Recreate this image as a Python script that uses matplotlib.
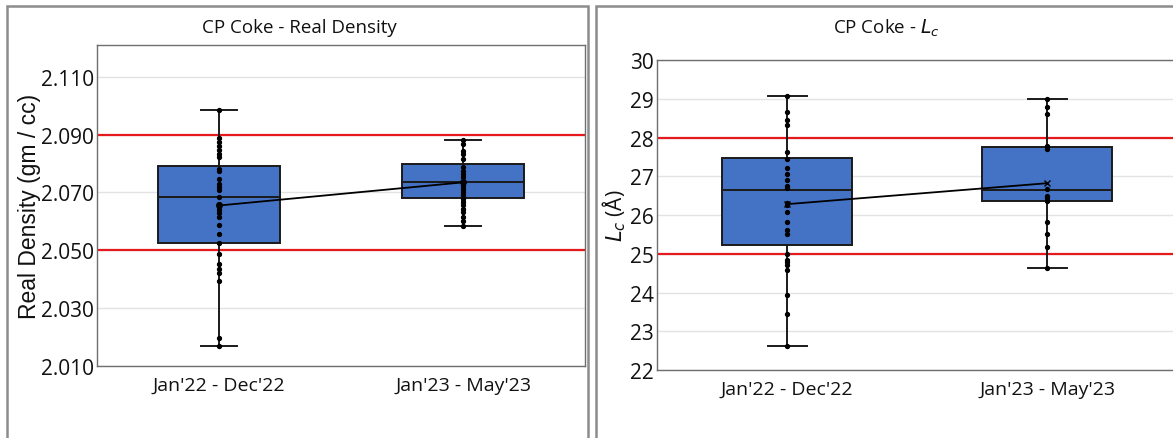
import numpy as np
import matplotlib
matplotlib.use("Agg")
from matplotlib import pyplot as plt
from matplotlib.patches import Rectangle

periods = ["Jan'22 - Dec'22", "Jan'23 - May'23"]

# real density (gm / cc)
rd_q1 = [2.0525, 2.0680]
rd_med = [2.0685, 2.0735]
rd_q3 = [2.0790, 2.0800]
rd_lo = [2.0169, 2.0584]
rd_hi = [2.0985, 2.0883]
rd_mean = [2.0655, 2.0735]
rd_pts_22 = [2.0985, 2.0889, 2.0874, 2.0862, 2.0848, 2.0834, 2.0824, 2.0782, 2.0776,
             2.0748, 2.0730, 2.0719, 2.0707, 2.0686, 2.0661, 2.0655, 2.0650, 2.0638,
             2.0629, 2.0615, 2.0586, 2.0558, 2.0525, 2.0489, 2.0454, 2.0437, 2.0420,
             2.0394, 2.0196, 2.0169]
rd_pts_23 = [2.0883, 2.0868, 2.0845, 2.0833, 2.0816, 2.0787, 2.0776, 2.0764, 2.0753,
             2.0741, 2.0736, 2.0724, 2.0713, 2.0701, 2.0690, 2.0678, 2.0667, 2.0655,
             2.0644, 2.0632, 2.0615, 2.0603, 2.0584]
rd_limits = [2.050, 2.090]
rd_ticks = [2.010, 2.030, 2.050, 2.070, 2.090, 2.110]

# crystallite height Lc (angstrom)
lc_q1 = [25.22, 26.37]
lc_med = [26.65, 26.65]
lc_q3 = [27.47, 27.75]
lc_lo = [22.63, 24.62]
lc_hi = [29.06, 28.99]
lc_mean = [26.28, 26.82]
lc_pts_22 = [29.06, 28.65, 28.45, 28.31, 27.62, 27.45, 27.21, 27.05, 26.90, 26.76,
             26.69, 26.30, 26.26, 26.07, 25.81, 25.61, 25.51, 24.99, 24.84, 24.78,
             24.71, 24.58, 23.94, 23.44, 22.63]
lc_pts_23 = [28.99, 28.80, 28.61, 27.79, 27.70, 26.67, 26.50, 26.43, 26.35, 25.81,
             25.51, 25.17, 24.62]
lc_limits = [25.0, 28.0]
lc_ticks = [22, 23, 24, 25, 26, 27, 28, 29, 30]

BOX = "#4472C4"
RED = "#E41A1C"
GRID = "#E3E3E3"
SPINE = "#6E6E6E"
TICKFONT = "Open Sans"

fig = plt.figure(figsize=(11.73, 4.39), dpi=100)

# panel frames
for x0, w in [(7 / 1173, 581 / 1173), (596 / 1173, 600 / 1173)]:
    fig.patches.append(Rectangle((x0, -0.05), w, 1.05 - 7 / 439, transform=fig.transFigure,
                                 fill=False, edgecolor="#8C8C8C", linewidth=1.8))


def draw_panel(ax, q1, med, q3, lo, hi, mean, pts, limits, ticks, ylim, fmt, mean_marker):
    stats = []
    for i in range(2):
        stats.append(dict(q1=q1[i], med=med[i], q3=q3[i], whislo=lo[i], whishi=hi[i],
                          mean=mean[i], fliers=[]))
    ax.bxp(stats, positions=[1, 2], widths=0.5, patch_artist=True, showfliers=False,
           boxprops=dict(facecolor=BOX, edgecolor="#1A1A1A", linewidth=1.4),
           medianprops=dict(color="#1A1A1A", linewidth=1.4),
           whiskerprops=dict(color="#1A1A1A", linewidth=1.4),
           capprops=dict(color="#1A1A1A", linewidth=1.4), capwidths=0.15, zorder=3)
    for i, p in enumerate(pts):
        ax.plot(np.full(len(p), i + 1), p, "o", color="black", markersize=2.8, zorder=4)
    ax.plot([1, 2], mean, color="black", linewidth=1.3, marker=mean_marker,
            markersize=4, zorder=5)
    for v in limits:
        ax.axhline(v, color=RED, linewidth=1.6, zorder=2)
    ax.set_xlim(0.5, 2.5)
    ax.set_ylim(*ylim)
    ax.set_yticks(ticks)
    ax.set_yticklabels([fmt.format(t) for t in ticks], fontfamily=TICKFONT, fontsize=15)
    ax.set_xticks([1, 2])
    ax.set_xticklabels(periods, fontfamily=TICKFONT, fontsize=14)
    ax.tick_params(axis="both", length=0, pad=2, colors="#111111")
    ax.tick_params(axis="x", pad=7)
    ax.grid(axis="y", color=GRID, linewidth=1, zorder=0)
    ax.set_axisbelow(True)
    for s in ax.spines.values():
        s.set_color(SPINE)
        s.set_linewidth(1.0)


ax1 = fig.add_axes([97 / 1173, 72 / 439, 488 / 1173, 321 / 439])
draw_panel(ax1, rd_q1, rd_med, rd_q3, rd_lo, rd_hi, rd_mean, [rd_pts_22, rd_pts_23],
           rd_limits, rd_ticks, (2.010, 2.121), "{:.3f}", "o")
ax1.set_ylabel("Real Density (gm / cc)", fontfamily="Liberation Sans", fontsize=16.5,
               color="#111111", labelpad=0)

ax2 = fig.add_axes([657 / 1173, 68 / 439, 520 / 1173, 310 / 439])
draw_panel(ax2, lc_q1, lc_med, lc_q3, lc_lo, lc_hi, lc_mean, [lc_pts_22, lc_pts_23],
           lc_limits, lc_ticks, (22, 30), "{:d}", "x")
ax2.spines["right"].set_visible(False)
ax2.set_ylabel(r"$L_c$ (Å)", fontfamily=TICKFONT, fontsize=15, color="#111111", labelpad=2)

fig.text(299 / 1173, 1 - 28 / 439, "CP Coke - Real Density", ha="center", va="center",
         fontfamily=TICKFONT, fontsize=13.5, color="#111111")
fig.text(886 / 1173, 1 - 28 / 439, r"CP Coke - $L_c$", ha="center", va="center",
         fontfamily=TICKFONT, fontsize=13.5, color="#111111")

fig.savefig("out.png", dpi=100)
